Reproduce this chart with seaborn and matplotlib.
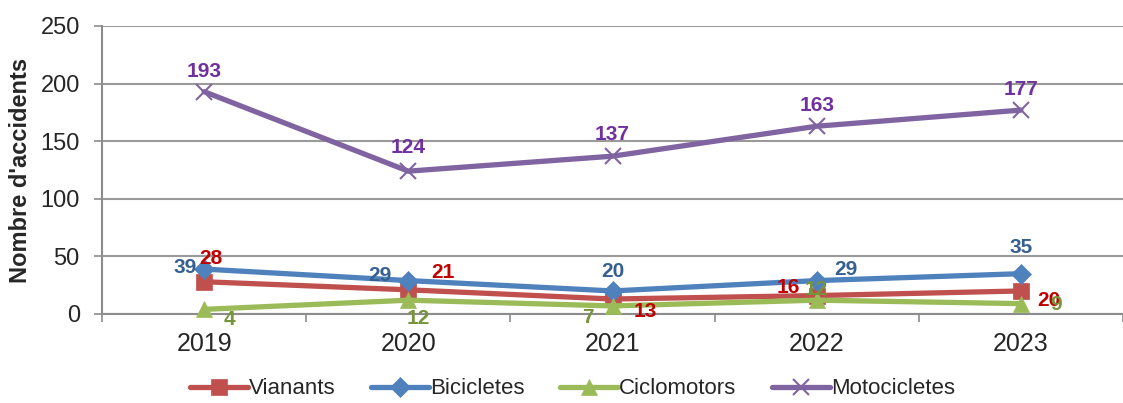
import matplotlib
matplotlib.use('Agg')
import matplotlib.pyplot as plt
import seaborn as sns
import numpy as np
import pandas as pd

# --- Data ---
years = ["2019", "2020", "2021", "2022", "2023"]
vianants = [28, 21, 13, 16, 20]
bicicletes = [39, 29, 20, 29, 35]
ciclomotors = [4, 12, 7, 12, 9]
motocicletes = [193, 124, 137, 163, 177]

series = [
    # name, values, line colour, label colour, marker, marker size, label offsets (px)
    ("Vianants", vianants, "#C0504D", "#C00000", "s", 11,
     [(7, 23), (35, 17), (33, -12), (-28, 8), (28, -10)]),
    ("Bicicletes", bicicletes, "#4F81BD", "#376092", "D", 10,
     [(-19, 2), (-28, 5), (0, 19), (29, 11), (0, 26)]),
    ("Ciclomotors", ciclomotors, "#9BBB59", "#77933C", "^", 12,
     [(25, -10), (10, -18), (-25, -12), (0, 11), (35, -1)]),
    ("Motocicletes", motocicletes, "#8064A2", "#7030A0", "x", 12,
     [(0, 20), (0, 24), (0, 22), (0, 21), (0, 21)]),
]

sns.set_style("white")
plt.rcParams['font.family'] = ['Liberation Sans', 'DejaVu Sans']

fig = plt.figure(figsize=(11.23, 4.03), dpi=100)
ax = fig.add_axes([102 / 1123, 1 - 314 / 403, 1 - 102 / 1123, 288 / 403])

x = np.arange(len(years))
for name, vals, col, lcol, mk, ms, offs in series:
    df = pd.DataFrame({"x": x, "y": vals})
    sns.lineplot(data=df, x="x", y="y", ax=ax, color=col, linewidth=3.8,
                 marker=mk, markersize=ms, markeredgecolor=col,
                 markeredgewidth=1.5 if mk == "x" else 0.5,
                 label=name, clip_on=False, zorder=3)
    for xi, v, (dx, dy) in zip(x, vals, offs):
        ax.annotate(str(v), (xi, v), xytext=(dx * 0.72, dy * 0.72),
                    textcoords="offset points", ha="center", va="center",
                    fontsize=15, fontweight="bold", color=lcol, zorder=5)

ax.set_ylim(0, 250)
ax.set_yticks([0, 50, 100, 150, 200, 250])
ax.set_xlim(-0.5, 4.45)
ax.set_xticks(x)
ax.set_xticklabels(years)
ax.set_xticks(np.arange(-0.5, 4.6, 1.0), minor=True)
ax.tick_params(axis="x", which="major", length=0, labelsize=18, pad=13)
ax.tick_params(axis="x", which="minor", length=6, color="#8C8C8C", width=1.2,
               bottom=True)
ax.tick_params(axis="y", length=6, color="#8C8C8C", width=1.2, labelsize=17,
               left=True, pad=10)
ax.grid(axis="y", color="#9A9A9A", linewidth=1.5)
ax.grid(axis="x", visible=False)
ax.set_axisbelow(True)
for side in ["top", "right"]:
    ax.spines[side].set_visible(False)
for side in ["left", "bottom"]:
    ax.spines[side].set_color("#8C8C8C")
    ax.spines[side].set_linewidth(1.5)

ax.set_xlabel("")
ax.set_ylabel("Nombre d'accidents", fontsize=17, fontweight="bold", labelpad=6)

leg = ax.legend(loc="center", bbox_to_anchor=(0.5 - 40 / 1021, -75 / 288),
                ncol=4, frameon=False, fontsize=16, handlelength=2.6,
                handletextpad=0.05, columnspacing=1.6, borderpad=0.2)

fig.savefig("out.png", dpi=100)
plt.close(fig)
